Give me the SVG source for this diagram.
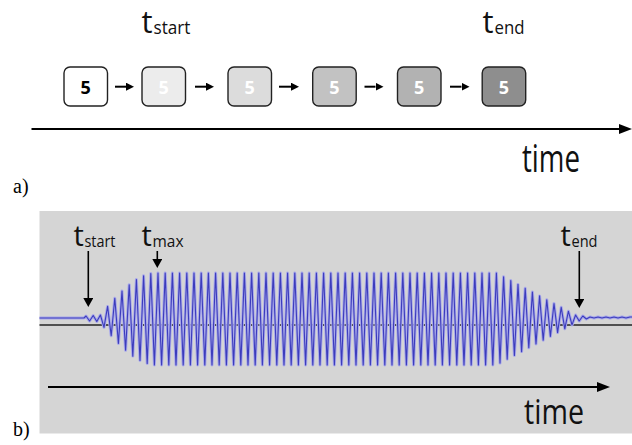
<svg xmlns="http://www.w3.org/2000/svg" width="632" height="445" viewBox="0 0 632 445">
<defs>
<style>
.box{stroke:#222;stroke-width:1.4}
.num{font-family:"Open Sans","Noto Sans",sans-serif;font-weight:bold;font-size:18px;text-anchor:middle;fill:#fff}
.lbl{font-family:"Open Sans","Noto Sans",sans-serif;fill:#111}
.ser{font-family:"Liberation Serif","Times New Roman",serif;font-size:20px;fill:#000}
.con{stroke:#000;fill:none}
</style>
<marker id="hs" viewBox="0 0 10 10" refX="0" refY="5" markerUnits="userSpaceOnUse" markerWidth="8" markerHeight="8" orient="auto"><path d="M0,0 L10,5 L0,10 z" fill="#000"/></marker>
<marker id="hb" viewBox="0 0 10 10" refX="0" refY="5" markerUnits="userSpaceOnUse" markerWidth="13" markerHeight="10" orient="auto" preserveAspectRatio="none"><path d="M0,0 L10,5 L0,10 z" fill="#000"/></marker>
<marker id="hv" viewBox="0 0 10 10" refX="0" refY="5" markerUnits="userSpaceOnUse" markerWidth="9" markerHeight="10" orient="auto" preserveAspectRatio="none"><path d="M0,0 L10,5 L0,10 z" fill="#000"/></marker>
</defs>
<rect width="632" height="445" fill="#fff"/>

<!-- part a -->
<g id="label-a-tstart"><text class="lbl"><tspan x="141.5" y="33" font-size="31">t</tspan><tspan x="153.5" y="33.5" font-size="19" textLength="37" lengthAdjust="spacingAndGlyphs">start</tspan></text></g>
<g id="label-a-tend"><text class="lbl"><tspan x="482.5" y="33" font-size="31">t</tspan><tspan x="494.5" y="33.5" font-size="19" textLength="30" lengthAdjust="spacingAndGlyphs">end</tspan></text></g>

<g id="box1"><rect class="box" x="64" y="67" width="43.5" height="39" rx="6" fill="#fff"/><text class="num" x="85.7" y="93.5" style="fill:#000">5</text></g>
<g id="box2"><rect class="box" x="142" y="67" width="43.5" height="39" rx="6" fill="#ececec"/><text class="num" x="163.7" y="93.5">5</text></g>
<g id="box3"><rect class="box" x="228" y="67" width="43.5" height="39" rx="6" fill="#dcdcdc"/><text class="num" x="249.7" y="93.5">5</text></g>
<g id="box4"><rect class="box" x="312.7" y="67" width="43.5" height="39" rx="6" fill="#c2c2c2"/><text class="num" x="334.4" y="93.5">5</text></g>
<g id="box5"><rect class="box" x="397.5" y="67" width="43.5" height="39" rx="6" fill="#b2b2b2"/><text class="num" x="419.2" y="93.5">5</text></g>
<g id="box6"><rect class="box" x="482.2" y="67" width="43.5" height="39" rx="6" fill="#8e8e8e"/><text class="num" x="503.9" y="93.5">5</text></g>

<g id="connectors-a">
<line class="con" x1="115" y1="86.7" x2="126" y2="86.7" stroke-width="2" marker-end="url(#hs)"/>
<line class="con" x1="195" y1="86.7" x2="206" y2="86.7" stroke-width="2" marker-end="url(#hs)"/>
<line class="con" x1="279" y1="86.7" x2="291" y2="86.7" stroke-width="2" marker-end="url(#hs)"/>
<line class="con" x1="364.5" y1="86.7" x2="375.5" y2="86.7" stroke-width="2" marker-end="url(#hs)"/>
<line class="con" x1="450" y1="86.7" x2="461.5" y2="86.7" stroke-width="2" marker-end="url(#hs)"/>
<line class="con" x1="31.5" y1="129" x2="619" y2="129" stroke-width="2" marker-end="url(#hb)"/>
</g>
<g id="label-a-time"><text class="lbl" x="522" y="172" font-size="38" textLength="58" lengthAdjust="spacingAndGlyphs">time</text></g>
<g id="label-a"><text class="ser" x="13" y="193">a)</text></g>

<!-- part b -->
<rect x="39.5" y="211" width="592.5" height="222.5" fill="#d5d5d5"/>
<line x1="39.5" y1="325" x2="632" y2="325" stroke="#505050" stroke-width="2"/>
<g id="signal">
<path id="wave" fill="none" stroke-linejoin="round" d="M39.5,318 L84,318 L86,316 L89.6,321 L93.2,315.5 L96.8,321.5 L100.4,315 L104,327.4 L107.6,306.4 L111.2,335.7 L114.8,298.3 L118.4,343.4 L122,291 L125.6,350.3 L129.2,284.7 L132.8,356.1 L136.4,279.5 L140,360.5 L143.6,275.8 L147.2,363.5 L150.8,273.6 L154.4,364.9 L158,273 l3.6,92 l3.6,-92 l3.6,92 l3.6,-92 l3.6,92 l3.6,-92 l3.6,92 l3.6,-92 l3.6,92 l3.6,-92 l3.6,92 l3.6,-92 l3.6,92 l3.6,-92 l3.6,92 l3.6,-92 l3.6,92 l3.6,-92 l3.6,92 l3.6,-92 l3.6,92 l3.6,-92 l3.6,92 l3.6,-92 l3.6,92 l3.6,-92 l3.6,92 l3.6,-92 l3.6,92 l3.6,-92 l3.6,92 l3.6,-92 l3.6,92 l3.6,-92 l3.6,92 l3.6,-92 l3.6,92 l3.6,-92 l3.6,92 l3.6,-92 l3.6,92 l3.6,-92 l3.6,92 l3.6,-92 l3.6,92 l3.6,-92 l3.6,92 l3.6,-92 l3.6,92 l3.6,-92 l3.6,92 l3.6,-92 l3.6,92 l3.6,-92 l3.6,92 l3.6,-92 l3.6,92 l3.6,-92 l3.6,92 l3.6,-92 l3.6,92 l3.6,-92 l3.6,92 l3.6,-92 l3.6,92 l3.6,-92 l3.6,92 l3.6,-92 l3.6,92 l3.6,-92 l3.6,92 l3.6,-92 l3.6,92 l3.6,-92 l3.6,92 l3.6,-92 l3.6,92 l3.6,-92 l3.6,92 l3.6,-92 l3.6,92 l3.6,-92 l3.6,92 l3.6,-92 l3.6,92 l3.6,-92 l3.6,92 l3.6,-92 l3.6,92 l3.6,-92 l3.6,92 l3.6,-92 l3.6,92 l3.6,-92 L500,363.1 L503.6,276.8 L507.2,359.3 L510.8,280.6 L514.4,355.5 L518,284.4 L521.6,351.6 L525.2,288.3 L528.8,347.8 L532.4,292.1 L536,344 L539.6,295.9 L543.2,340.2 L546.8,299.7 L550.4,336.4 L554,303.5 L557.6,332.6 L561.2,307.3 L564.8,328.8 L568.4,311.2 L572,324.9 L575.6,315 L579.2,321 L582.8,316 L586.4,319 L590,317 l4,1 l4,-1 l4,1 l4,-1 l4,1 l4,-1 l4,1 l4,-1 l4,1 l4,-1 l2,0"/>
<use href="#wave" stroke="#a8a8ea" stroke-width="3"/>
<use href="#wave" stroke="#3c3cbc" stroke-width="1.1"/>
</g>

<g id="label-b-tstart"><text class="lbl"><tspan x="73.5" y="246" font-size="29">t</tspan><tspan x="84.5" y="247" font-size="17" textLength="31" lengthAdjust="spacingAndGlyphs">start</tspan></text></g>
<g id="label-b-tmax"><text class="lbl"><tspan x="141.5" y="246" font-size="29">t</tspan><tspan x="152.5" y="247" font-size="17" textLength="31" lengthAdjust="spacingAndGlyphs">max</tspan></text></g>
<g id="label-b-tend"><text class="lbl"><tspan x="560.5" y="246" font-size="29">t</tspan><tspan x="571.5" y="247" font-size="17" textLength="26" lengthAdjust="spacingAndGlyphs">end</tspan></text></g>

<g id="connectors-b">
<line class="con" x1="88.3" y1="251" x2="88.3" y2="298" stroke-width="1.6" marker-end="url(#hv)"/>
<line class="con" x1="157.3" y1="251" x2="157.3" y2="259" stroke-width="1.6" marker-end="url(#hv)"/>
<line class="con" x1="579.3" y1="251" x2="579.3" y2="299" stroke-width="1.6" marker-end="url(#hv)"/>
<line class="con" x1="48" y1="387" x2="597" y2="387" stroke-width="2" marker-end="url(#hb)"/>
</g>
<g id="label-b-time"><text class="lbl" x="524" y="424" font-size="34" textLength="60" lengthAdjust="spacingAndGlyphs">time</text></g>
<g id="label-b"><text class="ser" x="13" y="436">b)</text></g>
</svg>
